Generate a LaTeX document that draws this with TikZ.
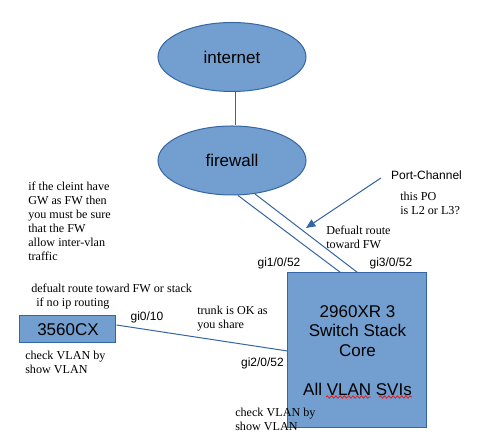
\documentclass[tikz,border=0pt]{standalone}
\usepackage{fontspec}
\setmainfont{Liberation Serif}
\setsansfont{Liberation Sans}
\usetikzlibrary{shapes.geometric,arrows.meta,calc,decorations.pathmorphing}
\definecolor{fillblue}{HTML}{729FCF}
\definecolor{edgeblue}{HTML}{3465A4}
\definecolor{spellred}{HTML}{E02020}
\begin{document}
\begin{tikzpicture}[x=0.75pt,y=-0.75pt,
 cloudnode/.style={ellipse,draw=edgeblue,fill=fillblue,line width=0.75pt,minimum width=111pt,minimum height=51.75pt,inner sep=0pt,font=\sffamily\fontsize{12.75}{15}\selectfont},
 boxnode/.style={rectangle,draw=edgeblue,fill=fillblue,line width=0.75pt,inner sep=0pt,font=\sffamily\fontsize{12.75}{14.6}\selectfont,align=center},
 link/.style={draw=edgeblue,line width=0.75pt},
 note/.style={font=\rmfamily\fontsize{9.1}{10.5}\selectfont,align=left,inner sep=0pt,anchor=west},
 port/.style={font=\sffamily\fontsize{9}{11}\selectfont,inner sep=0pt},
 spell/.style={draw=spellred,line width=0.6pt,decorate,decoration={snake,amplitude=0.9pt,segment length=3.2pt}},
]
\useasboundingbox (0,0) rectangle (480,448);
% main nodes
\node[cloudnode] (inet) at (232,57) {internet};
\node[cloudnode] (fw) at (232,160.5) {firewall};
\node[boxnode,minimum width=104.25pt,minimum height=116.25pt] (sw) at (357.5,350.5)
  {2960XR 3\\Switch Stack\\Core\\[14.6pt]All VLAN SVIs};
\node[boxnode,minimum width=72pt,minimum height=20.25pt,font=\sffamily\fontsize{12.75}{15}\selectfont] (cx) at (68,329.5) {3560CX};
% connectors
\draw[link] ($(inet.south)+(4,0)$) -- ($(fw.north)+(4,0)$);
\draw[link] ($(fw.south)+(6,0)$) -- ($(sw.north)+(-17,0)$);
\draw[link] ($(fw.south)+(23,-1.5)$) -- (sw.north);
\draw[link] (cx.east |- 0,325) -- (sw.west |- 0,351);
% port labels
\node[port] (g010) at (147,317) {gi0/10};
\node[port] (g1052) at (279,263) {gi1/0/52};
\node[port] (g3052) at (391,263) {gi3/0/52};
\node[port] (g2052) at (262.5,363) {gi2/0/52};
\node[port,inner sep=7.5pt] (pc) at (426.5,175) {Port-Channel};
\coordinate (pctip) at (306,228);
\draw[link,-{Triangle[length=7pt,width=6pt]},fill=edgeblue] ($(pc.west)+(0,3)$) -- (pctip);
% notes
\node[note] (n1) at (28,221) {if the cleint have\\GW as FW then\\you must be sure\\that the FW\\allow inter-vlan\\traffic};
\node[note] (n2) at (31,297) {defualt route toward FW or stack\\\hspace*{3.75pt}if no ip routing};
\node[note] (n3) at (25,362) {check VLAN by\\show VLAN};
\node[note] (n4) at (197,319) {trunk is OK as\\you share};
\node[note] (n5) at (400,203.5) {this PO\\is L2 or L3?};
\node[note] (n6) at (326,237) {Defualt route\\toward FW};
\node[note] (n7) at (235,419) {check VLAN by\\show VLAN};
% spell-check underlines
\draw[spell] (326,397) -- (371,397);
\draw[spell] (379,397) -- (412,397);
\end{tikzpicture}
\end{document}
